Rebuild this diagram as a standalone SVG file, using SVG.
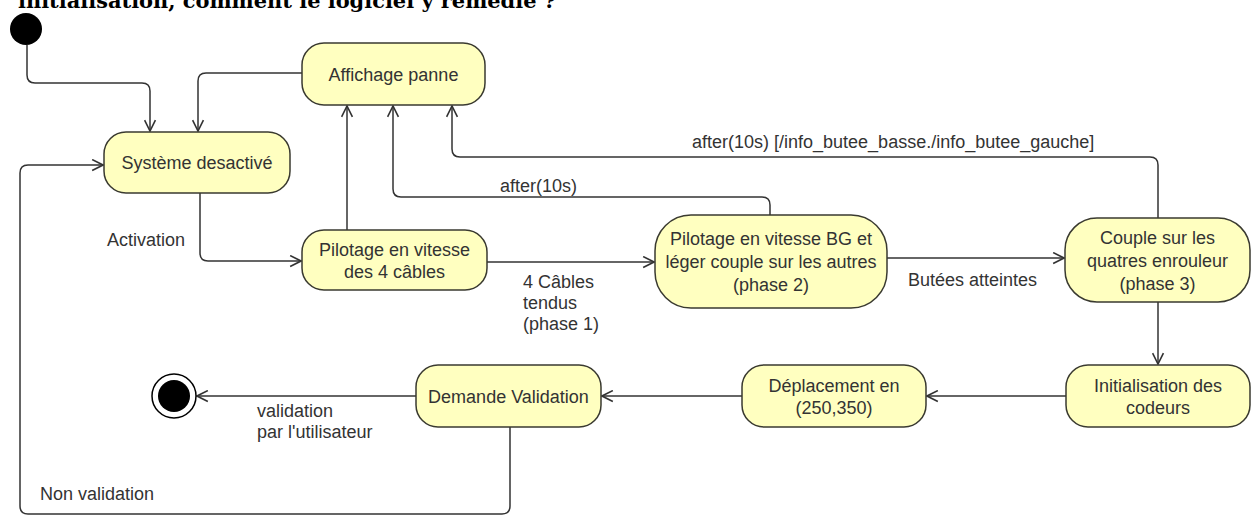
<svg xmlns="http://www.w3.org/2000/svg" width="1253" height="518" viewBox="0 0 1253 518">
  <style>
    .st { fill: #ffffc0; stroke: #3a3a30; stroke-width: 1.5; }
    .t { font-family: "Liberation Sans", Arial, sans-serif; font-size: 18px; fill: #333333; }
    .c { text-anchor: middle; }
    .edge { fill: none; stroke: #333333; stroke-width: 1.5; marker-end: url(#arr); }
    .title { font-family: "DejaVu Serif", "Liberation Serif", serif; font-weight: bold; font-size: 21px; fill: #000; }
  </style>
  <defs>
    <marker id="arr" viewBox="0 0 12 12" refX="11" refY="6" markerWidth="13" markerHeight="13" markerUnits="userSpaceOnUse" orient="auto">
      <path d="M1,1 L11,6 L1,11" fill="none" stroke="#333333" stroke-width="1.5"/>
    </marker>
  </defs>
  <rect width="1253" height="518" fill="#ffffff"/>
  <text class="title" x="18" y="8" textLength="538" lengthAdjust="spacingAndGlyphs">initialisation, comment le logiciel y remédie ?</text>

  <g id="connectors">
    <path class="edge" d="M27,45 V75 Q27,83 35,83 H142 Q150,83 150,91 V131"/>
    <path class="edge" d="M302,73 H206 Q198,73 198,81 V131"/>
    <path class="edge" d="M347,230 V106"/>
    <path class="edge" d="M770,215 V205 Q770,197 762,197 H401 Q393,197 393,189 V106"/>
    <path class="edge" d="M1158,218 V165 Q1158,157 1150,157 H460 Q452,157 452,149 V106"/>
    <path class="edge" d="M200,193 V253 Q200,261 208,261 H301"/>
    <path class="edge" d="M487,262 H654"/>
    <path class="edge" d="M887,258 H1064"/>
    <path class="edge" d="M1158,302 V364"/>
    <path class="edge" d="M1066,396 H927"/>
    <path class="edge" d="M742,396 H602"/>
    <path class="edge" d="M416,396 H197"/>
    <path class="edge" d="M510,427 V506 Q510,514 502,514 H28 Q20,514 20,506 V173 Q20,165 28,165 H103"/>
    <text class="t" x="500" y="192">after(10s)</text>
    <text class="t" x="692" y="148">after(10s) [/info_butee_basse./info_butee_gauche]</text>
    <text class="t" x="107" y="246">Activation</text>
    <text class="t" x="523" y="288">4 Câbles</text>
    <text class="t" x="523" y="309">tendus</text>
    <text class="t" x="523" y="330">(phase 1)</text>
    <text class="t" x="908" y="286">Butées atteintes</text>
    <text class="t" x="257" y="417">validation</text>
    <text class="t" x="257" y="438">par l'utilisateur</text>
    <text class="t" x="40" y="500">Non validation</text>
  </g>

  <g id="initial">
    <circle cx="26" cy="29" r="16" fill="#000"/>
  </g>
  <g id="affichage-panne">
    <rect class="st" x="302" y="43" width="183" height="62" rx="22"/>
    <text class="t c" x="393.5" y="80.5">Affichage panne</text>
  </g>
  <g id="systeme-desactive">
    <rect class="st" x="104" y="132" width="186" height="61" rx="22"/>
    <text class="t c" x="197" y="168.5">Système desactivé</text>
  </g>
  <g id="pilotage-vitesse">
    <rect class="st" x="302" y="230" width="185" height="60" rx="22"/>
    <text class="t c" x="394.5" y="255.5">Pilotage en vitesse</text>
    <text class="t c" x="394.5" y="277.5">des 4 câbles</text>
  </g>
  <g id="phase2">
    <rect class="st" x="655" y="215" width="232" height="93" rx="36"/>
    <text class="t c" x="771" y="245">Pilotage en vitesse BG et</text>
    <text class="t c" x="771" y="268">léger couple sur les autres</text>
    <text class="t c" x="771" y="291">(phase 2)</text>
  </g>
  <g id="phase3">
    <rect class="st" x="1065" y="218" width="185" height="84" rx="32"/>
    <text class="t c" x="1157.5" y="243.5">Couple sur les</text>
    <text class="t c" x="1157.5" y="266.5">quatres enrouleur</text>
    <text class="t c" x="1157.5" y="289.5">(phase 3)</text>
  </g>
  <g id="init-codeurs">
    <rect class="st" x="1066" y="365" width="184" height="62" rx="22"/>
    <text class="t c" x="1158" y="391.5">Initialisation des</text>
    <text class="t c" x="1158" y="413.5">codeurs</text>
  </g>
  <g id="deplacement">
    <rect class="st" x="742" y="365" width="184" height="62" rx="22"/>
    <text class="t c" x="834" y="391.5">Déplacement en</text>
    <text class="t c" x="834" y="413.5">(250,350)</text>
  </g>
  <g id="demande-validation">
    <rect class="st" x="416" y="365" width="185" height="62" rx="22"/>
    <text class="t c" x="508.5" y="402.5">Demande Validation</text>
  </g>
  <g id="final">
    <circle cx="174" cy="396" r="22" fill="#ffffff" stroke="#000" stroke-width="1.5"/>
    <circle cx="174" cy="396" r="16" fill="#000"/>
  </g>
</svg>
